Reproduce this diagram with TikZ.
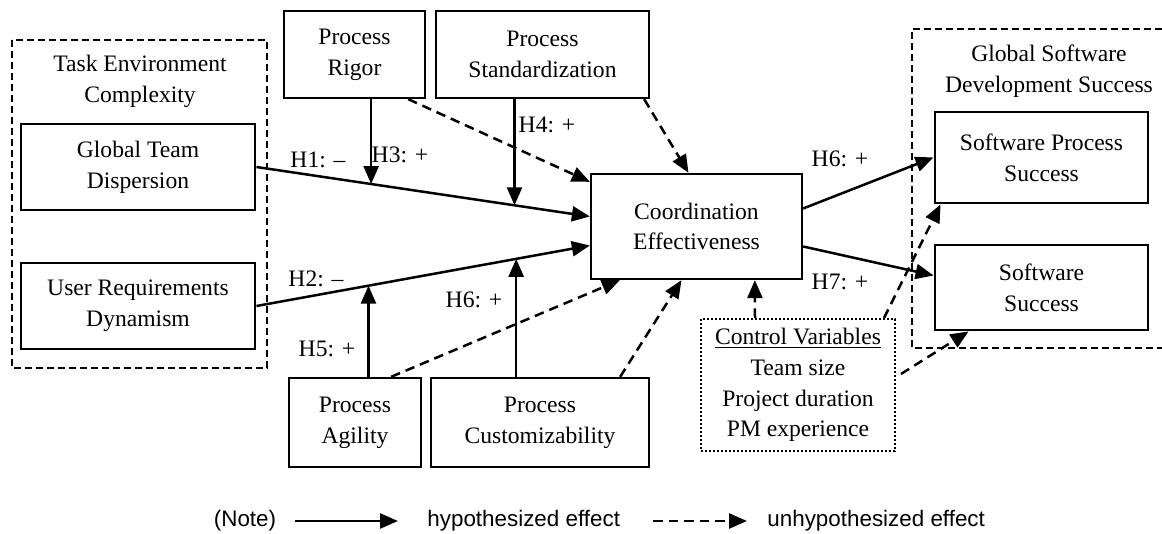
\documentclass[tikz,border=0pt]{standalone}
\usepackage{fontspec}
\setmainfont{Liberation Serif}
\newfontfamily\notefont{Liberation Sans}
\usetikzlibrary{arrows.meta,calc}

\begin{document}
\begin{tikzpicture}[x=0.5pt, y=-0.5pt,
    every node/.style={font=\fontsize{11.8}{15.4}\selectfont, align=center},
    box/.style={draw, line width=1.15pt, inner sep=0pt},
    thickbox/.style={box, line width=1.45pt},
    group/.style={draw, line width=0.9pt, dash pattern=on 3.5pt off 2pt},
    ctrlbox/.style={box, line width=1pt, dash pattern=on 1pt off 1pt},
    hyp/.style={line width=1.25pt, -{Triangle[length=9pt,width=7.5pt]}},
    unhyp/.style={hyp, dash pattern=on 4.8pt off 3pt},
    lbl/.style={inner sep=0pt},
    note/.style={font=\notefont\fontsize{11.2}{13}\selectfont, inner sep=0pt}]
	\useasboundingbox (0,0) rectangle (1162,534);

	% dashed groups
	\draw[group] (12,40) rectangle (267,368);
	\draw[group] (1162,29) -| (912,348) -- (1162,348);
	\node (taskhd) at (140,81) {Task Environment\\Complexity};
	\node (gsdhd) at (1049,71.5) {Global Software\\Development Success};

	% constructs
	\node[thickbox, minimum width=117pt, minimum height=43pt] (gtd) at (138,167) {Global Team\\Dispersion};
	\node[thickbox, minimum width=117pt, minimum height=43pt] (urd) at (138,306) {User Requirements\\Dynamism};
	\node[box, minimum width=70.5pt, minimum height=43.5pt] (rigor) at (354.5,54.5) {Process\\Rigor};
	\node[box, minimum width=106.5pt, minimum height=43.5pt] (std) at (542.5,54.5) {Process\\Standardization};
	\node[box, minimum width=105.5pt, minimum height=52.5pt] (coord) at (696.5,226.5) {Coordination\\Effectiveness};
	\node[thickbox, minimum width=106.5pt, minimum height=45.5pt] (sps) at (1041.5,157.5) {Software Process\\Success};
	\node[thickbox, minimum width=106.5pt, minimum height=42.5pt] (ss) at (1041.5,287.5) {Software\\Success};
	\node[box, minimum width=66pt, minimum height=44.5pt] (agility) at (355,422.5) {Process\\Agility};
	\node[box, minimum width=109pt, minimum height=44.5pt] (custom) at (540,422.5) {Process\\Customizability};
	\node[ctrlbox, minimum width=97pt, minimum height=66pt] (control) at (798,385) {\underline{Control Variables}\\Team size\\Project duration\\PM experience};

	% hypothesized effects
	\coordinate (h1end) at ($(coord.west)+(0,-10)$);
	\coordinate (h2end) at ($(coord.west)+(0,19)$);
	\draw[hyp] (gtd.east) -- (h1end);
	\draw[hyp] (urd.east) -- (h2end);
	\coordinate (h3m) at ($(gtd.east)!0.344!(h1end)$);
	\coordinate (h4m) at ($(gtd.east)!0.774!(h1end)$);
	\coordinate (h5m) at ($(urd.east)!0.336!(h2end)$);
	\coordinate (h6m) at ($(urd.east)!0.779!(h2end)$);
	\draw[hyp] (rigor.south -| h3m) -- (h3m);
	\draw[hyp] (std.south -| h4m) -- (h4m);
	\draw[hyp] (agility.north -| h5m) -- (h5m);
	\draw[hyp] (custom.north -| h6m) -- (h6m);
	\draw[hyp] ($(coord.east)+(0,-18)$) -- (sps.west);
	\draw[hyp] ($(coord.east)+(0,20)$) -- ($(ss.west)+(0,-12)$);

	% unhypothesized effects
	\draw[unhyp] ($(rigor.south east)+(-18,0)$) -- ($(coord.north west)+(0,9)$);
	\draw[unhyp] ($(std.south east)+(-6,0)$) -- ($(coord.north)+(-8,0)$);
	\draw[unhyp] ($(agility.north east)+(-31,0)$) -- ($(coord.south west)+(30,0)$);
	\draw[unhyp] ($(custom.north east)+(-30,0)$) -- ($(coord.south)+(-15,0)$);
	\draw[unhyp] ($(control.north west)+(55,0)$) -- ($(coord.south west)+(165,0)$);
	\draw[unhyp] ($(control.north east)+(-12,0)$) -- ($(sps.south west)+(7,0)$);
	\draw[unhyp] ($(control.east)+(5,-11)$) -- ($(ss.south west)+(35,0)$);

	% labels
	\node[lbl] (lh1) at (318,160) {H1: --};
	\node[lbl] (lh3) at (400,155) {H3: +};
	\node[lbl] (lh4) at (547,125) {H4: +};
	\node[lbl] (lh2) at (316,279) {H2: --};
	\node[lbl] (lh5) at (327,349) {H5: +};
	\node[lbl] (lh6a) at (474,300) {H6: +};
	\node[lbl] (lh6b) at (840,159) {H6: +};
	\node[lbl] (lh7) at (840,282) {H7: +};

	% legend
	\node[note] (notelbl) at (245,521) {(Note)};
	\coordinate (hypa) at (295,521);
	\coordinate (hypb) at (398,521);
	\draw[hyp] (hypa) -- (hypb);
	\node[note, anchor=west] (hyptxt) at (427,521) {hypothesized effect};
	\coordinate (unha) at (653,521);
	\coordinate (unhb) at (747,521);
	\draw[unhyp] (unha) -- (unhb);
	\node[note, anchor=west] (unhtxt) at (767,521) {unhypothesized effect};
\end{tikzpicture}
\end{document}
